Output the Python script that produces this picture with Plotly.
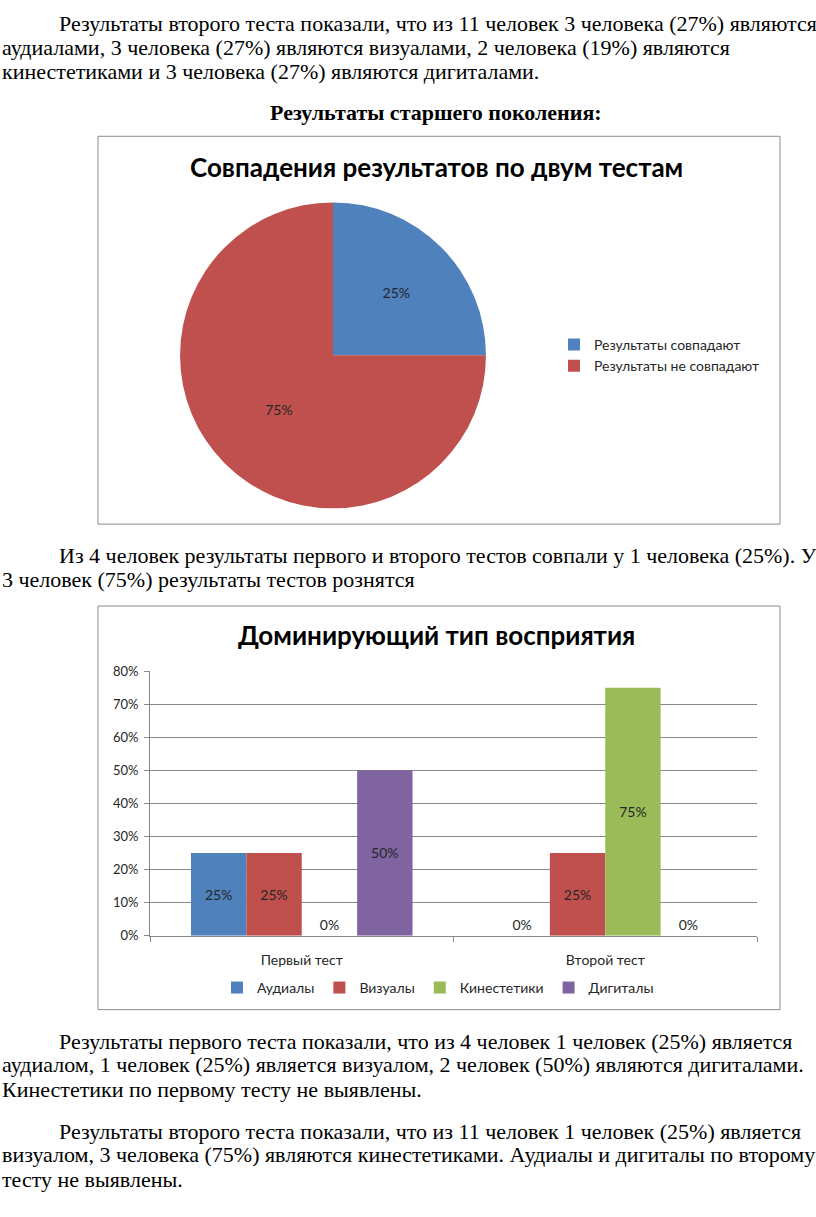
import plotly.graph_objects as go

W, H = 816, 1217

def fx(x):
    return x / W

def fy(y):
    return 1 - y / H

# ---- data ----
pie_labels = ["Результаты совпадают", "Результаты не совпадают"]
pie_values = [25, 75]
pie_colors = ["#4F81BD", "#C0504D"]

bar_categories = ["Первый тест", "Второй тест"]
bar_series = ["Аудиалы", "Визуалы", "Кинестетики", "Дигиталы"]
aud = [0.25, 0.0]
vis = [0.25, 0.25]
kin = [0.0, 0.75]
dig = [0.50, 0.0]
bar_values = [aud, vis, kin, dig]
bar_colors = ["#4F81BD", "#C0504D", "#9BBB59", "#8064A2"]

y_ticks = [0, 0.1, 0.2, 0.3, 0.4, 0.5, 0.6, 0.7, 0.8]

text_lines = [
    (57, 16, "Результаты второго теста показали, что из 11 человек 3 человека (27%) являются"),
    (0, 40, "аудиалами, 3 человека (27%) являются визуалами, 2 человека (19%) являются"),
    (0, 64, "кинестетиками и 3 человека (27%) являются дигиталами."),
    (57, 555, "Из 4 человек результаты первого и второго тестов совпали у 1 человека (25%). У"),
    (0, 579, "3 человек (75%) результаты тестов рознятся"),
    (57, 1047, "Результаты первого теста показали, что из 4 человек 1 человек (25%) является"),
    (0, 1071, "аудиалом, 1 человек (25%) является визуалом, 2 человек (50%) являются дигиталами."),
    (0, 1096, "Кинестетики по первому тесту не выявлены."),
    (57, 1138, "Результаты второго теста показали, что из 11 человек 1 человек (25%) является"),
    (0, 1162, "визуалом, 3 человека (75%) являются кинестетиками. Аудиалы и дигиталы по второму"),
    (0, 1187, "тесту не выявлены."),
]

SERIF = "Liberation Serif, Times New Roman, serif"
SANS = "Lato, Open Sans, sans-serif"
TXT = "#000000"
LBL = "#262626"

fig = go.Figure()

# pie chart
fig.add_trace(go.Pie(
    labels=pie_labels,
    values=pie_values,
    marker=dict(colors=pie_colors),
    sort=False,
    direction="clockwise",
    rotation=0,
    textinfo="percent",
    textposition="inside",
    insidetextorientation="horizontal",
    textfont=dict(family=SANS, size=14, color=LBL),
    domain=dict(x=[fx(178), fx(488)], y=[fy(507), fy(197)]),
    legend="legend",
    hoverinfo="label+percent",
))

# bar chart
for name, vals, col in zip(bar_series, bar_values, bar_colors):
    fig.add_trace(go.Bar(
        x=bar_categories,
        y=vals,
        name=name,
        marker=dict(color=col, line=dict(width=0)),
        texttemplate="%{y:.0%}",
        textposition=["inside" if v > 0 else "outside" for v in vals],
        insidetextanchor="middle",
        textfont=dict(family=SANS, size=14, color=LBL),
        insidetextfont=dict(family=SANS, size=14, color=LBL),
        outsidetextfont=dict(family=SANS, size=14, color=LBL),
        cliponaxis=False,
        xaxis="x",
        yaxis="y",
        legend="legend2",
    ))

annotations = []
for x, y, t in text_lines:
    annotations.append(dict(
        x=fx(x), y=fy(y), xref="paper", yref="paper",
        xanchor="left", yanchor="middle", showarrow=False,
        text=t, font=dict(family=SERIF, size=22, color=TXT),
    ))

annotations.append(dict(
    x=fx(436), y=fy(106), xref="paper", yref="paper",
    xanchor="center", yanchor="middle", showarrow=False,
    text="<b>Результаты старшего поколения:</b>",
    font=dict(family=SERIF, size=22, color=TXT),
))
annotations.append(dict(
    x=fx(436), y=fy(161), xref="paper", yref="paper",
    xanchor="center", yanchor="middle", showarrow=False,
    text="<b>Совпадения результатов по двум тестам</b>",
    font=dict(family=SANS, size=26, color="#000000"),
))
annotations.append(dict(
    x=fx(436), y=fy(635), xref="paper", yref="paper",
    xanchor="center", yanchor="middle", showarrow=False,
    text="<b>Доминирующий тип восприятия</b>",
    font=dict(family=SANS, size=26, color="#000000"),
))

shapes = [
    dict(type="rect", xref="paper", yref="paper",
         x0=fx(98), x1=fx(780), y0=fy(523), y1=fy(130),
         line=dict(color="#8C8C8C", width=1), fillcolor="rgba(0,0,0,0)"),
    dict(type="rect", xref="paper", yref="paper",
         x0=fx(98), x1=fx(780), y0=fy(1015), y1=fy(606),
         line=dict(color="#8C8C8C", width=1), fillcolor="rgba(0,0,0,0)"),
]

fig.update_layout(
    width=W, height=H,
    margin=dict(l=0, r=0, t=0, b=0),
    paper_bgcolor="white",
    plot_bgcolor="white",
    barmode="group",
    bargap=0.27,
    bargroupgap=0,
    showlegend=True,
    annotations=annotations,
    shapes=shapes,
    xaxis=dict(
        domain=[fx(150), fx(757)],
        anchor="y",
        type="category",
        tickson="boundaries",
        ticks="outside",
        ticklen=5,
        tickcolor="#878787",
        showline=True,
        linecolor="#878787",
        linewidth=1,
        showgrid=False,
        ticklabelstandoff=12,
        tickfont=dict(family=SANS, size=14, color=LBL),
        fixedrange=True,
    ),
    yaxis=dict(
        domain=[fy(940), fy(672)],
        anchor="x",
        range=[0, 0.8],
        tickvals=y_ticks,
        tickformat=".0%",
        ticks="outside",
        ticklen=5,
        tickcolor="#878787",
        showline=True,
        linecolor="#878787",
        linewidth=1,
        showgrid=True,
        gridcolor="#878787",
        gridwidth=1,
        zeroline=False,
        ticklabelstandoff=3,
        tickfont=dict(family=SANS, size=13, color=LBL),
        fixedrange=True,
    ),
    legend=dict(
        x=fx(554), y=fy(352), xanchor="left", yanchor="middle",
        orientation="v",
        font=dict(family=SANS, size=14, color=LBL),
        bgcolor="rgba(0,0,0,0)",
        itemwidth=30,
        traceorder="normal",
    ),
    legend2=dict(
        x=fx(438), y=fy(993), xanchor="center", yanchor="middle",
        orientation="h",
        font=dict(family=SANS, size=14, color=LBL),
        bgcolor="rgba(0,0,0,0)",
        itemwidth=30,
        traceorder="normal",
    ),
)

fig.write_html("out.html")
